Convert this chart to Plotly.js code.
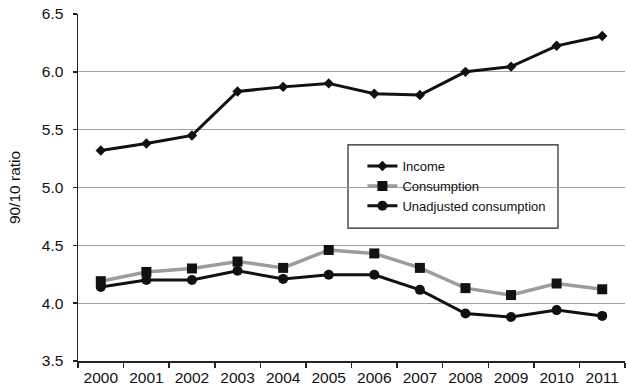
<!DOCTYPE html>
<html>
<head>
<meta charset="utf-8">
<script src="https://cdn.plot.ly/plotly-3.0.1.min.js"></script>
<style>html,body{margin:0;padding:0;background:#fff;}#chart{width:626px;height:386px;}</style>
</head>
<body>
<div id="chart"></div>
<script>
const years = ['2000','2001','2002','2003','2004','2005','2006','2007','2008','2009','2010','2011'];
const income = [5.32, 5.38, 5.45, 5.83, 5.87, 5.90, 5.81, 5.80, 6.00, 6.045, 6.225, 6.31];
const consumption = [4.19, 4.27, 4.30, 4.36, 4.305, 4.46, 4.43, 4.305, 4.13, 4.07, 4.17, 4.12];
const unadjusted = [4.14, 4.20, 4.20, 4.28, 4.21, 4.245, 4.245, 4.115, 3.91, 3.88, 3.94, 3.89];
const seriesNames = ['Income', 'Consumption', 'Unadjusted consumption'];
const yTicks = [3.5, 4.0, 4.5, 5.0, 5.5, 6.0, 6.5];

const font = 'Liberation Sans, Arial, Helvetica, sans-serif';

const traces = [
  {x: years, y: income, name: seriesNames[0], type: 'scatter', mode: 'lines+markers',
   line: {color: '#111', width: 3}, marker: {symbol: 'diamond', size: 8, color: '#111'}},
  {x: years, y: consumption, name: seriesNames[1], type: 'scatter', mode: 'lines+markers',
   line: {color: '#9c9c9c', width: 3.5}, marker: {symbol: 'square', size: 10, color: '#111'}},
  {x: years, y: unadjusted, name: seriesNames[2], type: 'scatter', mode: 'lines+markers',
   line: {color: '#111', width: 3}, marker: {symbol: 'circle', size: 10, color: '#111'}}
];

const layout = {
  width: 626, height: 386,
  margin: {l: 78, r: 1, t: 14, b: 25},
  paper_bgcolor: '#fff', plot_bgcolor: '#fff',
  font: {family: font, color: '#111', size: 14},
  showlegend: true,
  legend: {
    x: 0.52, y: 0.605, xanchor: 'left', yanchor: 'top',
    bgcolor: 'rgba(0,0,0,0)', borderwidth: 0,
    font: {family: font, size: 13, color: '#111'},
    itemwidth: 30, tracegroupgap: 0
  },
  shapes: [{
    type: 'rect', xref: 'paper', yref: 'paper',
    x0: 0.4936, x1: 0.8775, y0: 0.383, y1: 0.623,
    line: {color: '#222', width: 1.2}, fillcolor: '#fff', layer: 'below'
  }],
  xaxis: {
    type: 'category', range: [-0.5, 11.5],
    showgrid: false, zeroline: false,
    showline: true, linecolor: '#222', linewidth: 1.5,
    ticks: 'outside', tickson: 'boundaries', ticklen: 5, tickcolor: '#222', tickwidth: 1.5,
    tickfont: {family: font, size: 15.5, color: '#111'},
    ticklabelstandoff: 2,
    fixedrange: true
  },
  yaxis: {
    range: [3.5, 6.5], tickvals: yTicks, ticktext: yTicks.map(v => v.toFixed(1)),
    showgrid: true, gridcolor: '#a0a0a0', gridwidth: 1,
    zeroline: false, showline: true, linecolor: '#222', linewidth: 1.5,
    ticks: 'outside', ticklen: 4, tickcolor: '#222', tickwidth: 1.5,
    tickfont: {family: font, size: 15.5, color: '#111'},
    ticklabelstandoff: 6,
    title: {text: '90/10 ratio', font: {family: font, size: 15.5, color: '#111'}, standoff: 17},
    fixedrange: true
  }
};

Plotly.newPlot('chart', traces, layout, {displayModeBar: false, staticPlot: true});
</script>
</body>
</html>
